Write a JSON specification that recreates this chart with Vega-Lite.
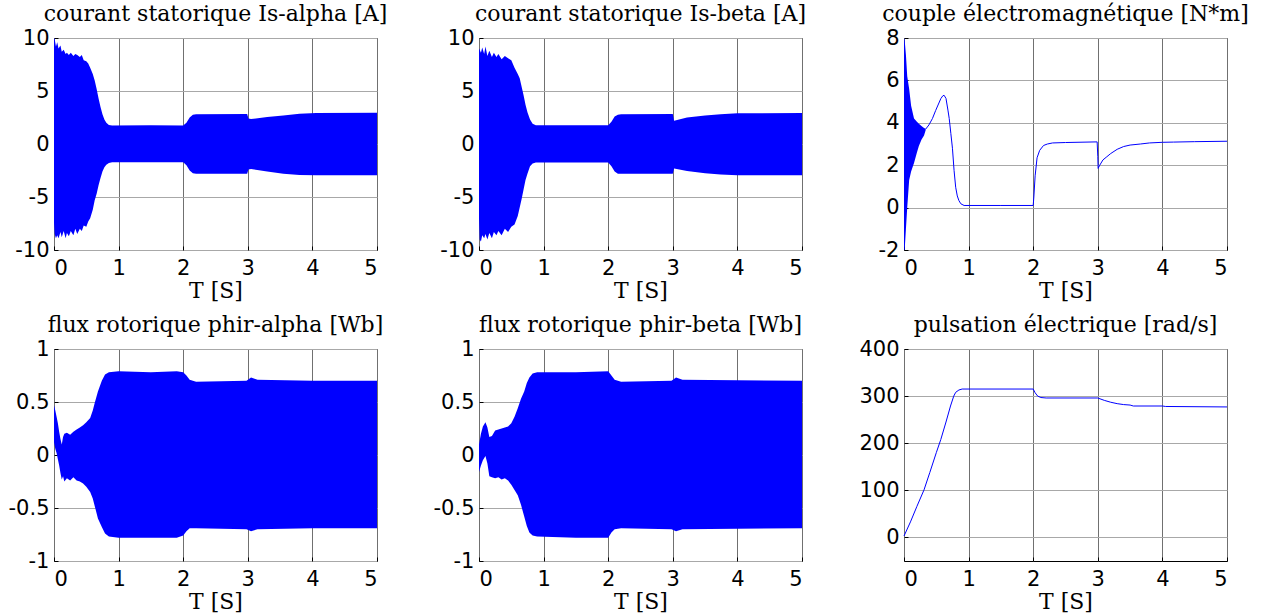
{
  "$schema": "https://vega.github.io/schema/vega-lite/v6.json",
  "background": "white",
  "padding": {"left": 7, "top": 2, "right": 0, "bottom": 0},
  "columns": 3,
  "spacing": {"row": 99, "column": 102},
  "bounds": "flush",
  "config": {
    "view": {"stroke": "black", "strokeWidth": 1},
    "title": {"font": "DejaVu Serif", "fontSize": 22, "fontWeight": "normal", "color": "black", "offset": 1, "anchor": "middle"},
    "axis": {
      "domain": false,
      "labelFont": "DejaVu Sans", "labelFontSize": 21, "labelColor": "black",
      "titleFont": "DejaVu Serif", "titleFontSize": 22, "titleFontWeight": "normal", "titleColor": "black",
      "tickColor": "black", "tickSize": -4, "tickWidth": 1,
      "gridWidth": 1,
      "labelExpr": "datum.value + ''"
    },
    "axisX": {"gridColor": "#707070", "labelPadding": 11, "titlePadding": 2},
    "axisY": {"gridColor": "#a8a8a8", "labelPadding": 9}
  },
  "datasets": {
    "env": [
      {"p": "ia", "t": 0, "hi": 10, "lo": -7.4},
      {"p": "ia", "t": 0.01, "hi": 9.9, "lo": -8.5},
      {"p": "ia", "t": 0.03, "hi": 9.2, "lo": -8.9},
      {"p": "ia", "t": 0.05, "hi": 9.6, "lo": -8.6},
      {"p": "ia", "t": 0.07, "hi": 9.0, "lo": -8.9},
      {"p": "ia", "t": 0.1, "hi": 9.3, "lo": -8.3},
      {"p": "ia", "t": 0.12, "hi": 8.7, "lo": -8.8},
      {"p": "ia", "t": 0.15, "hi": 8.9, "lo": -8.2},
      {"p": "ia", "t": 0.18, "hi": 8.5, "lo": -8.9},
      {"p": "ia", "t": 0.2, "hi": 8.6, "lo": -8.4},
      {"p": "ia", "t": 0.23, "hi": 8.4, "lo": -8.7},
      {"p": "ia", "t": 0.26, "hi": 8.6, "lo": -8.2},
      {"p": "ia", "t": 0.3, "hi": 8.3, "lo": -8.6},
      {"p": "ia", "t": 0.33, "hi": 8.5, "lo": -8.0},
      {"p": "ia", "t": 0.36, "hi": 8.4, "lo": -8.5},
      {"p": "ia", "t": 0.4, "hi": 8.2, "lo": -8.0},
      {"p": "ia", "t": 0.43, "hi": 8.4, "lo": -8.2},
      {"p": "ia", "t": 0.46, "hi": 7.9, "lo": -7.7},
      {"p": "ia", "t": 0.5, "hi": 7.8, "lo": -7.8},
      {"p": "ia", "t": 0.53, "hi": 7.6, "lo": -7.3},
      {"p": "ia", "t": 0.56, "hi": 7.2, "lo": -7.0},
      {"p": "ia", "t": 0.6, "hi": 6.6, "lo": -6.2},
      {"p": "ia", "t": 0.63, "hi": 6.0, "lo": -5.3},
      {"p": "ia", "t": 0.66, "hi": 5.2, "lo": -4.7},
      {"p": "ia", "t": 0.69, "hi": 4.3, "lo": -3.9},
      {"p": "ia", "t": 0.72, "hi": 3.5, "lo": -3.2},
      {"p": "ia", "t": 0.75, "hi": 2.8, "lo": -2.6},
      {"p": "ia", "t": 0.78, "hi": 2.3, "lo": -2.2},
      {"p": "ia", "t": 0.81, "hi": 2.0, "lo": -1.95},
      {"p": "ia", "t": 0.85, "hi": 1.8, "lo": -1.8},
      {"p": "ia", "t": 0.9, "hi": 1.75, "lo": -1.72},
      {"p": "ia", "t": 1.5, "hi": 1.76, "lo": -1.72},
      {"p": "ia", "t": 2.0, "hi": 1.75, "lo": -1.72},
      {"p": "ia", "t": 2.05, "hi": 2.0, "lo": -2.0},
      {"p": "ia", "t": 2.1, "hi": 2.5, "lo": -2.5},
      {"p": "ia", "t": 2.15, "hi": 2.75, "lo": -2.75},
      {"p": "ia", "t": 2.2, "hi": 2.8, "lo": -2.8},
      {"p": "ia", "t": 2.99, "hi": 2.82, "lo": -2.8},
      {"p": "ia", "t": 3.01, "hi": 2.4, "lo": -2.4},
      {"p": "ia", "t": 3.05, "hi": 2.35, "lo": -2.35},
      {"p": "ia", "t": 3.3, "hi": 2.55, "lo": -2.6},
      {"p": "ia", "t": 3.55, "hi": 2.7, "lo": -2.8},
      {"p": "ia", "t": 3.8, "hi": 2.85, "lo": -2.92},
      {"p": "ia", "t": 4.06, "hi": 2.92, "lo": -2.95},
      {"p": "ia", "t": 5.0, "hi": 2.95, "lo": -2.95},

      {"p": "ib", "t": 0, "hi": 9.0, "lo": -7.0},
      {"p": "ib", "t": 0.01, "hi": 8.9, "lo": -9.0},
      {"p": "ib", "t": 0.03, "hi": 8.6, "lo": -9.2},
      {"p": "ib", "t": 0.05, "hi": 9.1, "lo": -8.6},
      {"p": "ib", "t": 0.08, "hi": 8.5, "lo": -8.9},
      {"p": "ib", "t": 0.1, "hi": 9.2, "lo": -8.5},
      {"p": "ib", "t": 0.13, "hi": 8.3, "lo": -9.0},
      {"p": "ib", "t": 0.16, "hi": 8.8, "lo": -8.4},
      {"p": "ib", "t": 0.2, "hi": 8.2, "lo": -8.9},
      {"p": "ib", "t": 0.23, "hi": 8.6, "lo": -8.3},
      {"p": "ib", "t": 0.27, "hi": 8.2, "lo": -8.6},
      {"p": "ib", "t": 0.3, "hi": 8.5, "lo": -8.2},
      {"p": "ib", "t": 0.35, "hi": 8.0, "lo": -8.6},
      {"p": "ib", "t": 0.4, "hi": 8.3, "lo": -8.0},
      {"p": "ib", "t": 0.45, "hi": 8.1, "lo": -8.3},
      {"p": "ib", "t": 0.5, "hi": 7.9, "lo": -7.8},
      {"p": "ib", "t": 0.55, "hi": 7.2, "lo": -7.6},
      {"p": "ib", "t": 0.6, "hi": 6.6, "lo": -6.8},
      {"p": "ib", "t": 0.63, "hi": 6.2, "lo": -6.0},
      {"p": "ib", "t": 0.66, "hi": 5.4, "lo": -5.2},
      {"p": "ib", "t": 0.69, "hi": 4.6, "lo": -4.3},
      {"p": "ib", "t": 0.72, "hi": 3.7, "lo": -3.4},
      {"p": "ib", "t": 0.75, "hi": 3.0, "lo": -2.8},
      {"p": "ib", "t": 0.79, "hi": 2.3, "lo": -2.1},
      {"p": "ib", "t": 0.83, "hi": 1.9, "lo": -1.85},
      {"p": "ib", "t": 0.88, "hi": 1.78, "lo": -1.75},
      {"p": "ib", "t": 1.5, "hi": 1.78, "lo": -1.75},
      {"p": "ib", "t": 2.0, "hi": 1.78, "lo": -1.75},
      {"p": "ib", "t": 2.05, "hi": 2.1, "lo": -2.1},
      {"p": "ib", "t": 2.1, "hi": 2.6, "lo": -2.6},
      {"p": "ib", "t": 2.15, "hi": 2.75, "lo": -2.8},
      {"p": "ib", "t": 2.2, "hi": 2.8, "lo": -2.8},
      {"p": "ib", "t": 3.0, "hi": 2.82, "lo": -2.8},
      {"p": "ib", "t": 3.02, "hi": 2.2, "lo": -2.3},
      {"p": "ib", "t": 3.22, "hi": 2.5, "lo": -2.55},
      {"p": "ib", "t": 3.5, "hi": 2.7, "lo": -2.75},
      {"p": "ib", "t": 3.74, "hi": 2.8, "lo": -2.88},
      {"p": "ib", "t": 4.0, "hi": 2.9, "lo": -2.95},
      {"p": "ib", "t": 5.0, "hi": 2.92, "lo": -2.95},

      {"p": "ce", "t": 0, "hi": 8.0, "lo": -2.0},
      {"p": "ce", "t": 0.01, "hi": 7.9, "lo": -2.0},
      {"p": "ce", "t": 0.03, "hi": 7.2, "lo": -1.0},
      {"p": "ce", "t": 0.05, "hi": 6.2, "lo": 0.0},
      {"p": "ce", "t": 0.08, "hi": 5.6, "lo": 1.3},
      {"p": "ce", "t": 0.11, "hi": 4.8, "lo": 1.7},
      {"p": "ce", "t": 0.155, "hi": 4.2, "lo": 2.1},
      {"p": "ce", "t": 0.2, "hi": 4.05, "lo": 2.6},
      {"p": "ce", "t": 0.23, "hi": 3.95, "lo": 2.9},
      {"p": "ce", "t": 0.27, "hi": 3.85, "lo": 3.2},
      {"p": "ce", "t": 0.31, "hi": 3.75, "lo": 3.4},
      {"p": "ce", "t": 0.335, "hi": 3.72, "lo": 3.65},

      {"p": "fa", "t": 0, "hi": 0.47, "lo": 0.12},
      {"p": "fa", "t": 0.02, "hi": 0.42, "lo": 0.06},
      {"p": "fa", "t": 0.04, "hi": 0.36, "lo": 0.02},
      {"p": "fa", "t": 0.06, "hi": 0.3, "lo": -0.04},
      {"p": "fa", "t": 0.08, "hi": 0.22, "lo": -0.1},
      {"p": "fa", "t": 0.1, "hi": 0.15, "lo": -0.17},
      {"p": "fa", "t": 0.12, "hi": 0.1, "lo": -0.23},
      {"p": "fa", "t": 0.14, "hi": 0.17, "lo": -0.2},
      {"p": "fa", "t": 0.16, "hi": 0.2, "lo": -0.25},
      {"p": "fa", "t": 0.2, "hi": 0.21, "lo": -0.22},
      {"p": "fa", "t": 0.25, "hi": 0.19, "lo": -0.24},
      {"p": "fa", "t": 0.3, "hi": 0.22, "lo": -0.21},
      {"p": "fa", "t": 0.35, "hi": 0.24, "lo": -0.24},
      {"p": "fa", "t": 0.4, "hi": 0.26, "lo": -0.25},
      {"p": "fa", "t": 0.45, "hi": 0.28, "lo": -0.27},
      {"p": "fa", "t": 0.5, "hi": 0.31, "lo": -0.3},
      {"p": "fa", "t": 0.56, "hi": 0.35, "lo": -0.35},
      {"p": "fa", "t": 0.6, "hi": 0.42, "lo": -0.41},
      {"p": "fa", "t": 0.63, "hi": 0.49, "lo": -0.48},
      {"p": "fa", "t": 0.68, "hi": 0.6, "lo": -0.6},
      {"p": "fa", "t": 0.74, "hi": 0.7, "lo": -0.68},
      {"p": "fa", "t": 0.79, "hi": 0.76, "lo": -0.74},
      {"p": "fa", "t": 0.85, "hi": 0.78, "lo": -0.77},
      {"p": "fa", "t": 1.0, "hi": 0.79, "lo": -0.78},
      {"p": "fa", "t": 1.5, "hi": 0.78, "lo": -0.78},
      {"p": "fa", "t": 1.9, "hi": 0.79, "lo": -0.78},
      {"p": "fa", "t": 2.0, "hi": 0.78, "lo": -0.76},
      {"p": "fa", "t": 2.05, "hi": 0.75, "lo": -0.72},
      {"p": "fa", "t": 2.1, "hi": 0.71, "lo": -0.69},
      {"p": "fa", "t": 2.2, "hi": 0.69, "lo": -0.69},
      {"p": "fa", "t": 2.98, "hi": 0.7, "lo": -0.7},
      {"p": "fa", "t": 3.05, "hi": 0.73, "lo": -0.72},
      {"p": "fa", "t": 3.15, "hi": 0.71, "lo": -0.7},
      {"p": "fa", "t": 4.0, "hi": 0.7, "lo": -0.69},
      {"p": "fa", "t": 5.0, "hi": 0.7, "lo": -0.69},

      {"p": "fb", "t": 0, "hi": 0.1, "lo": -0.16},
      {"p": "fb", "t": 0.03, "hi": 0.2, "lo": -0.1},
      {"p": "fb", "t": 0.06, "hi": 0.27, "lo": -0.05},
      {"p": "fb", "t": 0.1, "hi": 0.31, "lo": -0.01},
      {"p": "fb", "t": 0.13, "hi": 0.26, "lo": -0.08},
      {"p": "fb", "t": 0.16, "hi": 0.17, "lo": -0.2},
      {"p": "fb", "t": 0.2, "hi": 0.18, "lo": -0.21},
      {"p": "fb", "t": 0.25, "hi": 0.23, "lo": -0.22},
      {"p": "fb", "t": 0.3, "hi": 0.24, "lo": -0.21},
      {"p": "fb", "t": 0.35, "hi": 0.25, "lo": -0.23},
      {"p": "fb", "t": 0.4, "hi": 0.26, "lo": -0.22},
      {"p": "fb", "t": 0.45, "hi": 0.27, "lo": -0.24},
      {"p": "fb", "t": 0.5, "hi": 0.3, "lo": -0.28},
      {"p": "fb", "t": 0.55, "hi": 0.36, "lo": -0.33},
      {"p": "fb", "t": 0.6, "hi": 0.44, "lo": -0.38},
      {"p": "fb", "t": 0.65, "hi": 0.53, "lo": -0.47},
      {"p": "fb", "t": 0.7, "hi": 0.6, "lo": -0.58},
      {"p": "fb", "t": 0.74, "hi": 0.68, "lo": -0.67},
      {"p": "fb", "t": 0.78, "hi": 0.73, "lo": -0.73},
      {"p": "fb", "t": 0.83, "hi": 0.77, "lo": -0.76},
      {"p": "fb", "t": 0.9, "hi": 0.78, "lo": -0.77},
      {"p": "fb", "t": 1.5, "hi": 0.78, "lo": -0.78},
      {"p": "fb", "t": 2.0, "hi": 0.79, "lo": -0.78},
      {"p": "fb", "t": 2.05, "hi": 0.75, "lo": -0.73},
      {"p": "fb", "t": 2.1, "hi": 0.71, "lo": -0.7},
      {"p": "fb", "t": 2.2, "hi": 0.69, "lo": -0.69},
      {"p": "fb", "t": 2.98, "hi": 0.7, "lo": -0.7},
      {"p": "fb", "t": 3.05, "hi": 0.73, "lo": -0.72},
      {"p": "fb", "t": 3.15, "hi": 0.71, "lo": -0.7},
      {"p": "fb", "t": 5.0, "hi": 0.7, "lo": -0.69}
    ],
    "ln": [
      {"p": "ce", "t": 0.335, "v": 3.7},
      {"p": "ce", "t": 0.386, "v": 3.9},
      {"p": "ce", "t": 0.44, "v": 4.2},
      {"p": "ce", "t": 0.49, "v": 4.58},
      {"p": "ce", "t": 0.57, "v": 5.14},
      {"p": "ce", "t": 0.6, "v": 5.27},
      {"p": "ce", "t": 0.62, "v": 5.3},
      {"p": "ce", "t": 0.65, "v": 5.15},
      {"p": "ce", "t": 0.68, "v": 4.6},
      {"p": "ce", "t": 0.7, "v": 4.2},
      {"p": "ce", "t": 0.725, "v": 3.5},
      {"p": "ce", "t": 0.75, "v": 2.8},
      {"p": "ce", "t": 0.775, "v": 1.75},
      {"p": "ce", "t": 0.8, "v": 0.96},
      {"p": "ce", "t": 0.825, "v": 0.55},
      {"p": "ce", "t": 0.85, "v": 0.33},
      {"p": "ce", "t": 0.88, "v": 0.18},
      {"p": "ce", "t": 0.93, "v": 0.1},
      {"p": "ce", "t": 1.5, "v": 0.1},
      {"p": "ce", "t": 2.0, "v": 0.1},
      {"p": "ce", "t": 2.01, "v": 0.5},
      {"p": "ce", "t": 2.03, "v": 1.5},
      {"p": "ce", "t": 2.06, "v": 2.35},
      {"p": "ce", "t": 2.1, "v": 2.7},
      {"p": "ce", "t": 2.16, "v": 2.93},
      {"p": "ce", "t": 2.22, "v": 3.0},
      {"p": "ce", "t": 2.3, "v": 3.05},
      {"p": "ce", "t": 2.5, "v": 3.07},
      {"p": "ce", "t": 2.99, "v": 3.1},
      {"p": "ce", "t": 3.0, "v": 2.4},
      {"p": "ce", "t": 3.005, "v": 1.85},
      {"p": "ce", "t": 3.03, "v": 2.0},
      {"p": "ce", "t": 3.08, "v": 2.25},
      {"p": "ce", "t": 3.14, "v": 2.4},
      {"p": "ce", "t": 3.2, "v": 2.55},
      {"p": "ce", "t": 3.3, "v": 2.75},
      {"p": "ce", "t": 3.4, "v": 2.88},
      {"p": "ce", "t": 3.5, "v": 2.95},
      {"p": "ce", "t": 3.66, "v": 3.0},
      {"p": "ce", "t": 3.8, "v": 3.05},
      {"p": "ce", "t": 4.0, "v": 3.08},
      {"p": "ce", "t": 4.17, "v": 3.09},
      {"p": "ce", "t": 4.5, "v": 3.11},
      {"p": "ce", "t": 5.0, "v": 3.13},

      {"p": "we", "t": 0, "v": 3},
      {"p": "we", "t": 0.1, "v": 33},
      {"p": "we", "t": 0.2, "v": 66},
      {"p": "we", "t": 0.31, "v": 101},
      {"p": "we", "t": 0.4, "v": 138},
      {"p": "we", "t": 0.5, "v": 180},
      {"p": "we", "t": 0.57, "v": 208},
      {"p": "we", "t": 0.65, "v": 245},
      {"p": "we", "t": 0.72, "v": 279},
      {"p": "we", "t": 0.77, "v": 300},
      {"p": "we", "t": 0.8, "v": 308},
      {"p": "we", "t": 0.85, "v": 313},
      {"p": "we", "t": 0.9, "v": 315},
      {"p": "we", "t": 2.0, "v": 315},
      {"p": "we", "t": 2.03, "v": 307},
      {"p": "we", "t": 2.07, "v": 300},
      {"p": "we", "t": 2.12, "v": 297},
      {"p": "we", "t": 2.2, "v": 296},
      {"p": "we", "t": 3.0, "v": 296},
      {"p": "we", "t": 3.1, "v": 291},
      {"p": "we", "t": 3.2, "v": 287},
      {"p": "we", "t": 3.3, "v": 284},
      {"p": "we", "t": 3.4, "v": 282},
      {"p": "we", "t": 3.5, "v": 281},
      {"p": "we", "t": 3.55, "v": 279},
      {"p": "we", "t": 4.0, "v": 279},
      {"p": "we", "t": 4.05, "v": 278},
      {"p": "we", "t": 5.0, "v": 277}
    ]
  },
  "concat": [
    {
      "width": 323, "height": 212,
      "title": "courant statorique Is-alpha [A]",
      "data": {"name": "env"},
      "transform": [{"filter": "datum.p == 'ia'"}],
      "mark": {"type": "area", "color": "#0000ff", "opacity": 1},
      "encoding": {
        "x": {"field": "t", "type": "quantitative", "scale": {"domain": [0, 5], "nice": false}, "axis": {"values": [0, 1, 2, 3, 4, 5], "title": "T [S]"}},
        "y": {"field": "hi", "type": "quantitative", "scale": {"domain": [-10, 10], "nice": false}, "axis": {"values": [-10, -5, 0, 5, 10], "title": null}},
        "y2": {"field": "lo"}
      }
    },
    {
      "width": 323, "height": 212,
      "title": "courant statorique Is-beta [A]",
      "data": {"name": "env"},
      "transform": [{"filter": "datum.p == 'ib'"}],
      "mark": {"type": "area", "color": "#0000ff", "opacity": 1},
      "encoding": {
        "x": {"field": "t", "type": "quantitative", "scale": {"domain": [0, 5], "nice": false}, "axis": {"values": [0, 1, 2, 3, 4, 5], "title": "T [S]"}},
        "y": {"field": "hi", "type": "quantitative", "scale": {"domain": [-10, 10], "nice": false}, "axis": {"values": [-10, -5, 0, 5, 10], "title": null}},
        "y2": {"field": "lo"}
      }
    },
    {
      "width": 323, "height": 212,
      "title": "couple électromagnétique [N*m]",
      "layer": [
        {
          "data": {"name": "env"},
          "transform": [{"filter": "datum.p == 'ce'"}],
          "mark": {"type": "area", "color": "#0000ff", "opacity": 1},
          "encoding": {
            "x": {"field": "t", "type": "quantitative", "scale": {"domain": [0, 5], "nice": false}, "axis": {"values": [0, 1, 2, 3, 4, 5], "title": "T [S]"}},
            "y": {"field": "hi", "type": "quantitative", "scale": {"domain": [-2, 8], "nice": false}, "axis": {"values": [-2, 0, 2, 4, 6, 8], "title": null}},
            "y2": {"field": "lo"}
          }
        },
        {
          "data": {"name": "ln"},
          "transform": [{"filter": "datum.p == 'ce'"}],
          "mark": {"type": "line", "color": "#0000ff", "strokeWidth": 1},
          "encoding": {
            "x": {"field": "t", "type": "quantitative"},
            "y": {"field": "v", "type": "quantitative"}
          }
        }
      ]
    },
    {
      "width": 323, "height": 212,
      "title": "flux rotorique phir-alpha [Wb]",
      "data": {"name": "env"},
      "transform": [{"filter": "datum.p == 'fa'"}],
      "mark": {"type": "area", "color": "#0000ff", "opacity": 1},
      "encoding": {
        "x": {"field": "t", "type": "quantitative", "scale": {"domain": [0, 5], "nice": false}, "axis": {"values": [0, 1, 2, 3, 4, 5], "title": "T [S]"}},
        "y": {"field": "hi", "type": "quantitative", "scale": {"domain": [-1, 1], "nice": false}, "axis": {"values": [-1, -0.5, 0, 0.5, 1], "title": null}},
        "y2": {"field": "lo"}
      }
    },
    {
      "width": 323, "height": 212,
      "title": "flux rotorique phir-beta [Wb]",
      "data": {"name": "env"},
      "transform": [{"filter": "datum.p == 'fb'"}],
      "mark": {"type": "area", "color": "#0000ff", "opacity": 1},
      "encoding": {
        "x": {"field": "t", "type": "quantitative", "scale": {"domain": [0, 5], "nice": false}, "axis": {"values": [0, 1, 2, 3, 4, 5], "title": "T [S]"}},
        "y": {"field": "hi", "type": "quantitative", "scale": {"domain": [-1, 1], "nice": false}, "axis": {"values": [-1, -0.5, 0, 0.5, 1], "title": null}},
        "y2": {"field": "lo"}
      }
    },
    {
      "width": 323, "height": 212,
      "title": "pulsation électrique [rad/s]",
      "data": {"name": "ln"},
      "transform": [{"filter": "datum.p == 'we'"}],
      "mark": {"type": "line", "color": "#0000ff", "strokeWidth": 1},
      "encoding": {
        "x": {"field": "t", "type": "quantitative", "scale": {"domain": [0, 5], "nice": false}, "axis": {"values": [0, 1, 2, 3, 4, 5], "title": "T [S]"}},
        "y": {"field": "v", "type": "quantitative", "scale": {"domain": [-50, 400], "nice": false}, "axis": {"values": [0, 100, 200, 300, 400], "title": null}}
      }
    }
  ]
}
